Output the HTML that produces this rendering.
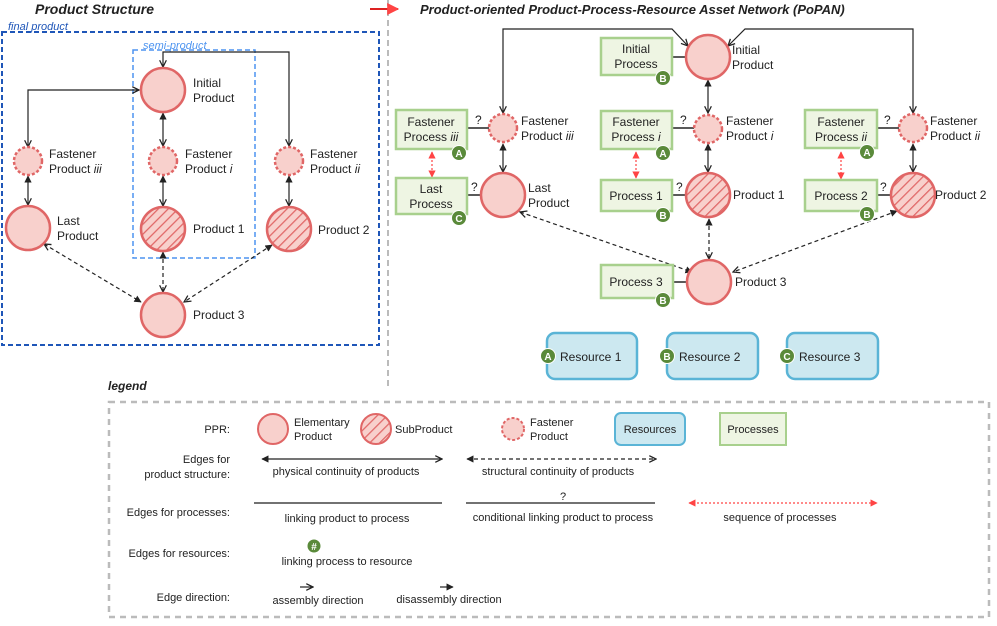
<!DOCTYPE html>
<html><head><meta charset="utf-8"><style>
body{margin:0;background:#fff}
text{font-family:"Liberation Sans",sans-serif;font-size:12px;fill:#222}
.it{font-style:italic}
.s{font-size:11px}
.b{fill:#fff;font-size:10px;font-weight:bold}
</style></head><body>
<svg width="997" height="621" viewBox="0 0 997 621" xmlns="http://www.w3.org/2000/svg">
<defs>
<pattern id="h" patternUnits="userSpaceOnUse" width="7" height="7" patternTransform="rotate(45)">
<rect width="7" height="7" fill="#f8d0cc"/><line x1="0" y1="0" x2="0" y2="7" stroke="#e06666" stroke-width="2.5"/></pattern>
<marker id="a" viewBox="0 0 10 10" refX="9" refY="5" markerWidth="7" markerHeight="7" orient="auto-start-reverse"><path d="M1,1 L9,5 L1,9" fill="none" stroke="#222" stroke-width="1.5"/></marker>
<marker id="f" viewBox="0 0 10 10" refX="9" refY="5" markerWidth="6" markerHeight="6" orient="auto-start-reverse"><path d="M0,0 L10,5 L0,10z" fill="#222"/></marker>
<marker id="r" viewBox="0 0 10 10" refX="9" refY="5" markerWidth="6" markerHeight="6" orient="auto-start-reverse"><path d="M0,0 L10,5 L0,10z" fill="#f44"/></marker>
</defs>
<!-- Left panel -->
<text x="35" y="14" class="it" style="font-size:14px;font-weight:bold">Product Structure</text>
<rect x="2" y="32" width="377" height="313" fill="none" stroke="#1f56b8" stroke-width="2" stroke-dasharray="5,3"/>
<text x="8" y="30" class="it" style="fill:#1f56b8;font-size:11px">final product</text>
<rect x="133" y="50" width="122" height="208" fill="none" stroke="#4d94f0" stroke-width="1.5" stroke-dasharray="5,3"/>
<text x="143" y="49" class="it" style="fill:#4d94f0;font-size:11px">semi-product</text>
<g stroke="#222" stroke-width="1.2" fill="none">
<path d="M28,147 V90 H139" marker-start="url(#a)" marker-end="url(#a)"/>
<path d="M163,67 V52 H289 V146" marker-start="url(#a)" marker-end="url(#a)"/>
<path d="M163,113 V146" marker-start="url(#f)" marker-end="url(#a)"/>
<path d="M163,176 V206" marker-start="url(#f)" marker-end="url(#a)"/>
<path d="M28,176 V205" marker-start="url(#f)" marker-end="url(#a)"/>
<path d="M289,176 V206" marker-start="url(#f)" marker-end="url(#a)"/>
<g stroke-dasharray="4,3"><path d="M163,252 V292" marker-start="url(#f)" marker-end="url(#a)"/>
<path d="M44,244 L141,302" marker-start="url(#a)" marker-end="url(#f)"/>
<path d="M272,245 L184,302" marker-start="url(#f)" marker-end="url(#a)"/></g>
</g>
<g stroke="#e06666" stroke-width="2.5">
<circle cx="163" cy="90" r="22" fill="#f8d0cc"/>
<circle cx="163" cy="161" r="14" fill="#f8d0cc" stroke-dasharray="3,2"/>
<circle cx="28" cy="161" r="14" fill="#f8d0cc" stroke-dasharray="3,2"/>
<circle cx="289" cy="161" r="14" fill="#f8d0cc" stroke-dasharray="3,2"/>
<circle cx="163" cy="229" r="22" fill="url(#h)"/>
<circle cx="289" cy="229" r="22" fill="url(#h)"/>
<circle cx="28" cy="228" r="22" fill="#f8d0cc"/>
<circle cx="163" cy="315" r="22" fill="#f8d0cc"/>
</g>
<text x="193" y="87">Initial</text><text x="193" y="102">Product</text>
<text x="185" y="158">Fastener</text><text x="185" y="173">Product <tspan class="it">i</tspan></text>
<text x="49" y="158">Fastener</text><text x="49" y="173">Product <tspan class="it">iii</tspan></text>
<text x="310" y="158">Fastener</text><text x="310" y="173">Product <tspan class="it">ii</tspan></text>
<text x="193" y="233">Product 1</text><text x="318" y="234">Product 2</text>
<text x="57" y="225">Last</text><text x="57" y="240">Product</text>
<text x="193" y="319">Product 3</text>
<!-- divider -->
<line x1="388" y1="0" x2="388" y2="390" stroke="#bbb" stroke-width="2" stroke-dasharray="6,4"/>
<line x1="370" y1="9" x2="398" y2="9" stroke="#d22" stroke-width="2" marker-end="url(#r)"/>
<text x="420" y="14" class="it" style="font-size:13px;font-weight:bold">Product-oriented Product-Process-Resource Asset Network (PoPAN)</text>
<!-- Right connectors -->
<g stroke="#222" stroke-width="1.2" fill="none">
<path d="M503,113 V29 H672 L688,46" marker-start="url(#a)" marker-end="url(#a)"/>
<path d="M913,113 V29 H745 L728,46" marker-start="url(#a)" marker-end="url(#a)"/>
<path d="M708,80 V113" marker-start="url(#f)" marker-end="url(#a)"/>
<path d="M708,144 V172" marker-start="url(#f)" marker-end="url(#a)"/>
<path d="M503,144 V172" marker-start="url(#f)" marker-end="url(#a)"/>
<path d="M913,144 V172" marker-start="url(#f)" marker-end="url(#a)"/>
<g stroke-dasharray="4,3">
<path d="M709,219 V259" marker-start="url(#f)" marker-end="url(#a)"/>
<path d="M520,212 L692,272" marker-start="url(#a)" marker-end="url(#f)"/>
<path d="M897,211 L733,272" marker-start="url(#f)" marker-end="url(#a)"/></g>
<g stroke-width="1.5">
<path d="M672,57 H685"/><path d="M467,128 H489"/><path d="M672,128 H694"/><path d="M877,128 H899"/>
<path d="M467,195 H481"/><path d="M672,195 H686"/><path d="M877,195 H891"/><path d="M672,282 H687"/></g>
</g>
<g stroke="#f44" stroke-width="1.2" stroke-dasharray="2,2">
<path d="M432,152 V177" marker-start="url(#r)" marker-end="url(#r)"/>
<path d="M636,152 V178" marker-start="url(#r)" marker-end="url(#r)"/>
<path d="M841,152 V179" marker-start="url(#r)" marker-end="url(#r)"/>
</g>
<text x="475" y="124">?</text><text x="680" y="124">?</text><text x="884" y="124">?</text>
<text x="471" y="191">?</text><text x="676" y="191">?</text><text x="880" y="191">?</text>
<g fill="#eef5e3" stroke="#a8d08d" stroke-width="2.5">
<rect x="601" y="38" width="71" height="37"/>
<rect x="396" y="110" width="71" height="39"/>
<rect x="601" y="111" width="71" height="38"/>
<rect x="805" y="110" width="72" height="38"/>
<rect x="396" y="178" width="71" height="36"/>
<rect x="601" y="180" width="71" height="31"/>
<rect x="805" y="180" width="72" height="31"/>
<rect x="601" y="265" width="72" height="33"/>
</g>
<g stroke="#e06666" stroke-width="2.5">
<circle cx="708" cy="57" r="22" fill="#f8d0cc"/>
<circle cx="503" cy="128" r="14" fill="#f8d0cc" stroke-dasharray="3,2"/>
<circle cx="708" cy="129" r="14" fill="#f8d0cc" stroke-dasharray="3,2"/>
<circle cx="913" cy="128" r="14" fill="#f8d0cc" stroke-dasharray="3,2"/>
<circle cx="503" cy="195" r="22" fill="#f8d0cc"/>
<circle cx="708" cy="195" r="22" fill="url(#h)"/>
<circle cx="913" cy="195" r="22" fill="url(#h)"/>
<circle cx="709" cy="282" r="22" fill="#f8d0cc"/>
</g>
<g text-anchor="middle">
<text x="636" y="53">Initial</text><text x="636" y="68">Process</text>
<text x="431" y="126">Fastener</text><text x="431" y="141">Process <tspan class="it">iii</tspan></text>
<text x="636" y="126">Fastener</text><text x="636" y="141">Process <tspan class="it">i</tspan></text>
<text x="841" y="126">Fastener</text><text x="841" y="141">Process <tspan class="it">ii</tspan></text>
<text x="431" y="193">Last</text><text x="431" y="208">Process</text>
<text x="636" y="200">Process 1</text><text x="841" y="200">Process 2</text><text x="636" y="286">Process 3</text>
</g>
<text x="732" y="54">Initial</text><text x="732" y="69">Product</text>
<text x="521" y="125">Fastener</text><text x="521" y="140">Product <tspan class="it">iii</tspan></text>
<text x="726" y="125">Fastener</text><text x="726" y="140">Product <tspan class="it">i</tspan></text>
<text x="930" y="125">Fastener</text><text x="930" y="140">Product <tspan class="it">ii</tspan></text>
<text x="528" y="192">Last</text><text x="528" y="207">Product</text>
<text x="733" y="199">Product 1</text><text x="935" y="199">Product 2</text><text x="735" y="286">Product 3</text>
<!-- resources -->
<g fill="#cce8f0" stroke="#5ab4d6" stroke-width="2.5">
<rect x="547" y="333" width="90" height="46" rx="8"/><rect x="667" y="333" width="91" height="46" rx="8"/><rect x="787" y="333" width="91" height="46" rx="8"/>
</g>
<!-- badges -->
<g fill="#5a8a3a" stroke="#fff" stroke-width="1"><circle cx="663" cy="78" r="7.5"/><circle cx="459" cy="153" r="7.5"/><circle cx="663" cy="153" r="7.5"/><circle cx="867" cy="152" r="7.5"/><circle cx="459" cy="218" r="7.5"/><circle cx="663" cy="215" r="7.5"/><circle cx="867" cy="214" r="7.5"/><circle cx="663" cy="300" r="7.5"/><circle cx="548" cy="356" r="7.5"/><circle cx="667" cy="356" r="7.5"/><circle cx="787" cy="356" r="7.5"/><circle cx="314" cy="546" r="7"/></g>
<g text-anchor="middle"><text x="663" y="82" class="b">B</text><text x="459" y="157" class="b">A</text><text x="663" y="157" class="b">A</text><text x="867" y="156" class="b">A</text><text x="459" y="222" class="b">C</text><text x="663" y="219" class="b">B</text><text x="867" y="218" class="b">B</text><text x="663" y="304" class="b">B</text><text x="548" y="360" class="b">A</text><text x="667" y="360" class="b">B</text><text x="787" y="360" class="b">C</text><text x="314" y="550" class="b">#</text></g>
<text x="560" y="361">Resource 1</text><text x="679" y="361">Resource 2</text><text x="799" y="361">Resource 3</text>
<!-- legend -->
<text x="108" y="390" class="it" style="font-weight:bold">legend</text>
<rect x="109" y="402" width="880" height="215" fill="none" stroke="#bbb" stroke-width="2.5" stroke-dasharray="6,5"/>
<g text-anchor="end">
<text x="230" y="433" class="s">PPR:</text>
<text x="230" y="463" class="s">Edges for</text><text x="230" y="478" class="s">product structure:</text>
<text x="230" y="516" class="s">Edges for processes:</text>
<text x="230" y="557" class="s">Edges for resources:</text>
<text x="230" y="601" class="s">Edge direction:</text>
</g>
<g stroke="#e06666" stroke-width="2">
<circle cx="273" cy="429" r="15" fill="#f8d0cc"/><circle cx="376" cy="429" r="15" fill="url(#h)"/><circle cx="513" cy="429" r="11" fill="#f8d0cc" stroke-dasharray="3,2"/>
</g>
<rect x="615" y="413" width="70" height="32" rx="6" fill="#cce8f0" stroke="#5ab4d6" stroke-width="2"/>
<rect x="720" y="413" width="66" height="32" fill="#eef5e3" stroke="#a8d08d" stroke-width="2"/>
<text x="294" y="426" class="s">Elementary</text><text x="294" y="440" class="s">Product</text>
<text x="395" y="433" class="s">SubProduct</text>
<text x="530" y="426" class="s">Fastener</text><text x="530" y="440" class="s">Product</text>
<text x="650" y="433" text-anchor="middle" class="s">Resources</text>
<text x="753" y="433" text-anchor="middle" class="s">Processes</text>
<text x="346" y="475" text-anchor="middle" class="s">physical continuity of products</text>
<text x="558" y="475" text-anchor="middle" class="s">structural continuity of products</text>
<text x="347" y="522" text-anchor="middle" class="s">linking product to process</text>
<text x="563" y="521" text-anchor="middle" class="s">conditional linking product to process</text>
<text x="563" y="500" text-anchor="middle" class="s">?</text>
<text x="780" y="521" text-anchor="middle" class="s">sequence of processes</text>
<text x="347" y="565" text-anchor="middle" class="s">linking process to resource</text>
<text x="318" y="604" text-anchor="middle" class="s">assembly direction</text>
<text x="449" y="603" text-anchor="middle" class="s">disassembly direction</text>
<g stroke="#444" stroke-width="1.5" fill="none">
<path d="M254,503 H442"/><path d="M466,503 H655"/>
</g>
<g stroke="#222" stroke-width="1.2" fill="none">
<path d="M262,459 H442" marker-start="url(#f)" marker-end="url(#a)"/>
<path d="M467,459 H656" stroke-dasharray="4,3" marker-start="url(#f)" marker-end="url(#a)"/>
<path d="M300,587 H313" marker-end="url(#a)"/>
<path d="M440,587 H453" marker-end="url(#f)"/>
</g>
<path d="M689,503 H877" stroke="#f44" stroke-width="1.2" stroke-dasharray="2,2" fill="none" marker-start="url(#r)" marker-end="url(#r)"/>
</svg>
</body></html>
